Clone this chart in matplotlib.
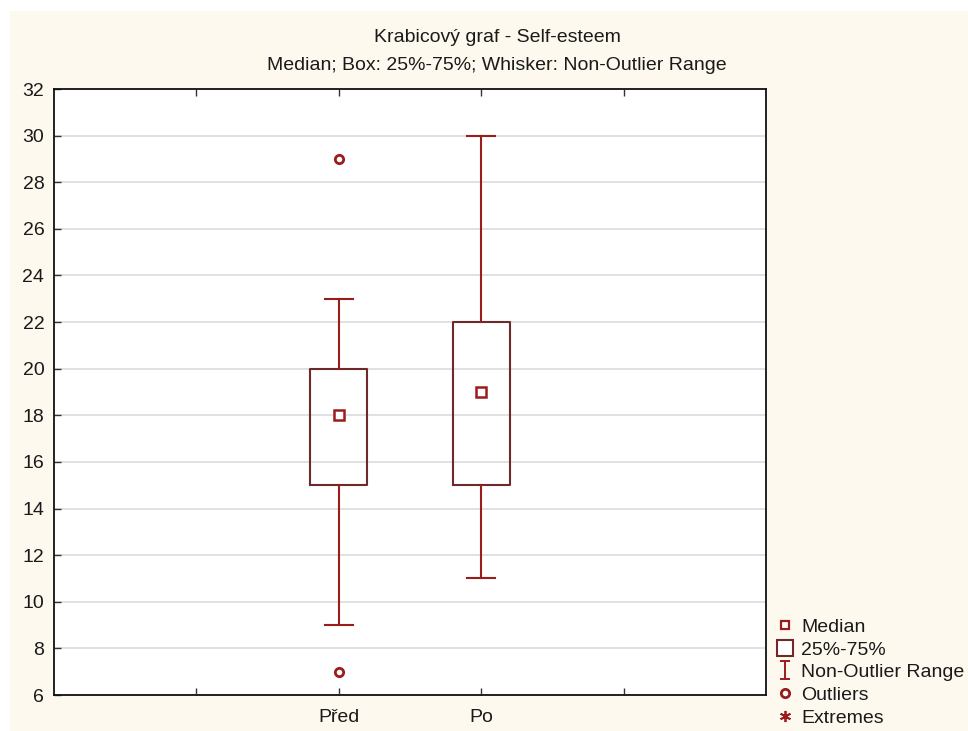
import matplotlib.pyplot as plt
from matplotlib.lines import Line2D
from matplotlib.patches import Rectangle
from matplotlib.path import Path

plt.rcParams['font.family'] = ['Liberation Sans', 'DejaVu Sans']

groups = ['Před', 'Po']
positions = [2, 3]
medians = [18, 19]
q1 = [15, 15]
q3 = [20, 22]
whisk_lo = [9, 11]
whisk_hi = [23, 30]
outliers = [[7, 29], []]

box_col = '#6e2a2a'
red = '#9c1c1c'
cream = '#fef9ef'
txt = '#1a1a1a'

fig = plt.figure(figsize=(9.68, 7.31), dpi=100)
fig.patch.set_facecolor('white')
fig.patches.append(Rectangle((10 / 968, 0), 1, 1 - 11 / 731, transform=fig.transFigure,
                             facecolor=cream, edgecolor='none', zorder=-10))

ax = fig.add_axes([54 / 968, 36 / 731, 712 / 968, 606 / 731])
ax.set_facecolor('white')

stats = []
for i in range(len(groups)):
    stats.append({'med': medians[i], 'q1': q1[i], 'q3': q3[i],
                  'whislo': whisk_lo[i], 'whishi': whisk_hi[i],
                  'fliers': outliers[i], 'label': groups[i]})

ax.bxp(stats, positions=positions, widths=0.4, showfliers=True,
       boxprops=dict(color=box_col, linewidth=1.5),
       whiskerprops=dict(color=red, linewidth=1.5),
       capprops=dict(color=red, linewidth=1.5),
       medianprops=dict(linewidth=0),
       flierprops=dict(marker='o', markersize=6, markerfacecolor='white',
                       markeredgecolor=red, markeredgewidth=2),
       capwidths=0.2, zorder=3)
ax.plot(positions, medians, linestyle='none', marker='s', markersize=7,
        markerfacecolor='white', markeredgecolor=red, markeredgewidth=1.8, zorder=4)

ax.set_xlim(0, 5)
ax.set_ylim(6, 32)
ax.set_yticks(range(6, 33, 2))
ax.set_xticks([1, 2, 3, 4])
ax.set_xticklabels(['', 'Před', 'Po', ''])
ax.yaxis.grid(True, color='#dcdcdc', linewidth=1.2)
ax.set_axisbelow(True)
ax.tick_params(axis='both', direction='in', length=5, width=1, colors='#333333',
               labelsize=14, labelcolor=txt, top=True)
ax.tick_params(axis='x', pad=10)
ax.tick_params(axis='y', pad=7)
for s in ax.spines.values():
    s.set_color('#111111')
    s.set_linewidth(1.3)

fig.text(497 / 968, 1 - 37 / 731, 'Krabicový graf - Self-esteem', ha='center', va='center',
         fontsize=14, color=txt)
fig.text(497 / 968, 1 - 66 / 731, 'Median; Box: 25%-75%; Whisker: Non-Outlier Range',
         ha='center', va='center', fontsize=14, color=txt)

ibeam = Path([(-0.6, 1), (0.6, 1), (0, 1), (0, -1), (-0.6, -1), (0.6, -1)],
             [Path.MOVETO, Path.LINETO, Path.MOVETO, Path.LINETO, Path.MOVETO, Path.LINETO])
handles = [
    Line2D([], [], linestyle='none', marker='s', markersize=6, markerfacecolor='white',
           markeredgecolor=red, markeredgewidth=1.6),
    Line2D([], [], linestyle='none', marker='s', markersize=12, markerfacecolor='white',
           markeredgecolor=box_col, markeredgewidth=1.5),
    Line2D([], [], linestyle='none', marker=ibeam, markersize=13, markerfacecolor='none',
           markeredgecolor=red, markeredgewidth=1.4),
    Line2D([], [], linestyle='none', marker='o', markersize=6, markerfacecolor='white',
           markeredgecolor=red, markeredgewidth=2),
    Line2D([], [], linestyle='none', marker=(6, 2, 0), markersize=8,
           markeredgecolor=red, markeredgewidth=1.3),
]
labels = ['Median', '25%-75%', 'Non-Outlier Range', 'Outliers', 'Extremes']
fig.legend(handles, labels, loc='lower left', bbox_to_anchor=(775 / 968, 0.006),
           frameon=False, fontsize=14, handlelength=1.0, handletextpad=0.35,
           labelspacing=0.26, borderpad=0.0, borderaxespad=0.0, labelcolor=txt)

fig.savefig('out.png', dpi=100, facecolor=fig.get_facecolor())
